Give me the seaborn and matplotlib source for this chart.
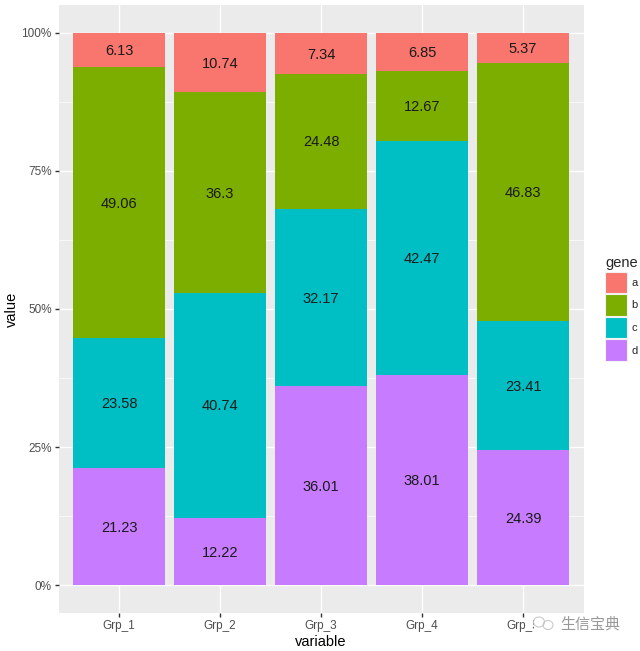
import pandas as pd
import seaborn as sns
import matplotlib.pyplot as plt
from matplotlib.patches import Patch, Ellipse, Rectangle

groups = ['Grp_1', 'Grp_2', 'Grp_3', 'Grp_4', 'Grp_5']
genes = ['a', 'b', 'c', 'd']
gene_a = [6.13, 10.74, 7.34, 6.85, 5.37]
gene_b = [49.06, 36.3, 24.48, 12.67, 46.83]
gene_c = [23.58, 40.74, 32.17, 42.47, 23.41]
gene_d = [21.23, 12.22, 36.01, 38.01, 24.39]
colors = ['#F8766D', '#7CAE00', '#00BFC4', '#C77CFF']
y_ticks = [0, 0.25, 0.5, 0.75, 1]
y_labels = ['0%', '25%', '50%', '75%', '100%']
y_minor = [0.125, 0.375, 0.625, 0.875]

df = pd.DataFrame({'variable': groups, 'a': gene_a, 'b': gene_b, 'c': gene_c, 'd': gene_d})
df = df.melt(id_vars='variable', var_name='gene', value_name='value')

sns.set_theme(style='darkgrid', rc={'axes.facecolor': '#EBEBEB', 'grid.color': 'white'})
plt.rcParams['font.family'] = ['Liberation Sans', 'Noto Sans CJK SC', 'DejaVu Sans']

fig = plt.figure(figsize=(6.4, 6.51), dpi=100)
ax = fig.add_axes([58.6 / 640, 1 - 613 / 651, 525 / 640, 608 / 651])

# stacked to 100%, first gene on top
sns.histplot(data=df, x='variable', weights='value', hue='gene', hue_order=genes,
             multiple='fill', palette=colors, shrink=0.91, alpha=1, linewidth=0,
             discrete=True, legend=False, ax=ax)

# segment labels
for cont in ax.containers:
    vals = [round(p.get_height() * 100, 2) for p in cont]
    texts = ax.bar_label(cont, labels=[f'{v:g}' for v in vals], label_type='center',
                         fontsize=10.5, color='#1a1a1a')
    for t in texts:
        t.xyann = (0, -1)

ax.set_xlim(-0.6, 4.6)
ax.set_ylim(-0.0507, 1.0507)
ax.set_yticks(y_ticks)
ax.set_yticklabels(y_labels)
ax.set_yticks(y_minor, minor=True)
ax.grid(True, which='major', color='white', linewidth=1.0)
ax.grid(True, which='minor', axis='y', color='white', linewidth=0.5)
ax.set_axisbelow(True)
for s in ax.spines.values():
    s.set_visible(False)
ax.tick_params(axis='both', which='major', length=3, width=1, color='#333333',
               labelsize=8.5, labelcolor='#4D4D4D', pad=2, bottom=True, left=True)
ax.tick_params(axis='y', which='minor', length=0)
ax.set_xlabel('variable', fontsize=10.5, color='black', labelpad=2)
ax.set_ylabel('value', fontsize=10.5, color='black', labelpad=1.5)

handles = [Patch(facecolor=c, edgecolor='#F2F2F2', linewidth=0.8, label=g) for c, g in zip(colors, genes)]
leg = fig.legend(handles=handles, title='gene', loc='upper left',
                 bbox_to_anchor=(600.5 / 640, 1 - 252 / 651), frameon=False, fontsize=8,
                 title_fontsize=10.5, handlelength=1.95, handleheight=2.6,
                 handletextpad=0.4, labelspacing=0.1, borderpad=0.4, borderaxespad=0)
leg._legend_box.align = 'left'

# watermark sits over the last tick label
fig.add_artist(Rectangle((534 / 640, 1 - 636 / 651), 106 / 640, 22 / 651, transform=fig.transFigure,
                         facecolor='white', edgecolor='none'))
fig.add_artist(Ellipse((539 / 640, 1 - 622 / 651), 11 / 640, 10 / 651, transform=fig.transFigure,
                       facecolor='none', edgecolor='#C4C4C4', linewidth=0.7))
fig.add_artist(Ellipse((548 / 640, 1 - 625 / 651), 10 / 640, 9 / 651, transform=fig.transFigure,
                       facecolor='none', edgecolor='#C4C4C4', linewidth=0.7))
fig.text(560 / 640, 1 - 624 / 651, '生信宝典', fontsize=10.8, color='#999999', va='center', ha='left')

fig.savefig('out.png', dpi=100)
